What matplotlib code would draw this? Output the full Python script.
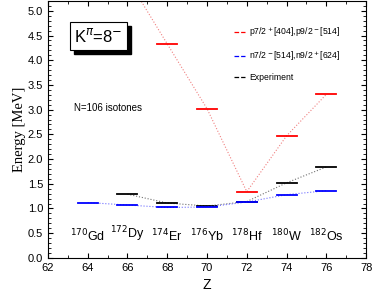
import matplotlib
matplotlib.use("Agg")
import matplotlib.pyplot as plt
from matplotlib.ticker import MultipleLocator

# values (MeV)
z = [64, 66, 68, 70, 72, 74, 76]
nuclei = ["$^{170}$Gd", "$^{172}$Dy", "$^{174}$Er", "$^{176}$Yb", "$^{178}$Hf", "$^{180}$W", "$^{182}$Os"]

z_p = [66, 68, 70, 72, 74, 76]
e_p = [5.65, 4.33, 3.02, 1.34, 2.47, 3.31]

z_n = [64, 66, 68, 70, 72, 74, 76]
e_n = [1.12, 1.07, 1.02, 1.03, 1.13, 1.28, 1.36]

z_exp = [66, 68, 70, 72, 74, 76]
e_exp = [1.29, 1.11, 1.05, 1.14, 1.52, 1.84]

plt.rcParams["font.family"] = ["Liberation Sans", "DejaVu Sans"]

fig = plt.figure(figsize=(3.74, 3.02), dpi=100)
ax = fig.add_axes([0.128, 0.146, 0.851, 0.851])

def levels(zs, es, color, dotcolor, label):
    ax.plot(zs, es, ":", color=dotcolor, lw=0.8)
    for zi, ei in zip(zs, es):
        ax.plot([zi - 0.5, zi + 0.5], [ei, ei], "-", color=color, lw=1.3)
    ax.plot([], [], "--", color=color, lw=0.9, label=label)

levels(z_p, e_p, "red", "#f08080", "p7/2$^+$[404],p9/2$^-$[514]")
levels(z_exp, e_exp, "black", "#707070", "Experiment")
levels(z_n, e_n, "blue", "#7070ff", "n7/2$^-$[514],n9/2$^+$[624]")

handles, labels = ax.get_legend_handles_labels()
order = [0, 2, 1]
ax.legend([handles[i] for i in order], [labels[i] for i in order],
          loc="upper left", bbox_to_anchor=(0.56, 0.935), frameon=False,
          fontsize=6.2, handlelength=1.3, handletextpad=0.5, labelspacing=1.2)

for zi, name in zip(z, nuclei):
    ax.text(zi, 0.28, name, ha="center", va="bottom", fontsize=9)

ax.text(63.3, 2.97, "N=106 isotones", fontsize=7)

# K box with shadow
ax.add_patch(plt.Rectangle((63.3, 4.13), 2.87, 0.57, color="black", zorder=3))
ax.add_patch(plt.Rectangle((63.1, 4.21), 2.87, 0.57, fc="white", ec="black", lw=0.8, zorder=4))
ax.text(64.53, 4.49, "K$^{\\pi}$=8$^{-}$", fontsize=12, ha="center", va="center", zorder=5)

ax.set_xlim(62, 78)
ax.set_ylim(0, 5.2)
ax.xaxis.set_major_locator(MultipleLocator(2))
ax.xaxis.set_minor_locator(MultipleLocator(1))
ax.yaxis.set_major_locator(MultipleLocator(0.5))
ax.yaxis.set_minor_locator(MultipleLocator(0.1))
ax.tick_params(which="both", direction="in", top=True, right=True, labelsize=8)
ax.tick_params(which="major", length=3.5)
ax.tick_params(which="minor", length=2)
ax.set_xlabel("Z", fontsize=10)
ax.set_ylabel("Energy [MeV]", fontsize=10.5, family="Liberation Serif", labelpad=1)

plt.savefig("out.png", dpi=100)
